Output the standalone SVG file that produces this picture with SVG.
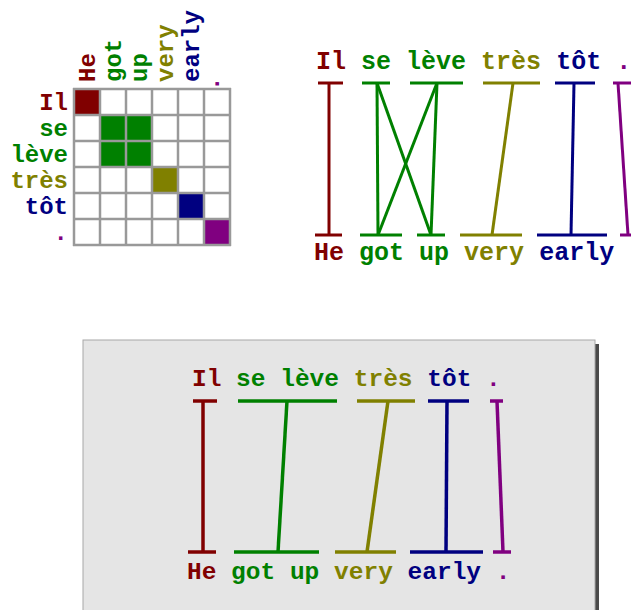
<svg xmlns="http://www.w3.org/2000/svg" width="631" height="610" viewBox="0 0 631 610">
<style>
text{font-family:"Liberation Mono","Courier New",monospace;font-weight:bold}
.lbl{font-size:24px}
.r{fill:#800000}.g{fill:#008000}.o{fill:#808000}.b{fill:#000080}.p{fill:#800080}
.sr{stroke:#800000}.sg{stroke:#008000}.so{stroke:#808000}.sb{stroke:#000080}.sp{stroke:#800080}
.c2 line{stroke-width:3;fill:none}
.c3 line{stroke-width:3.5;fill:none}
.grid line{stroke:#999;stroke-width:2.5}
</style>
<rect width="631" height="610" fill="#ffffff"/>

<!-- Alignment matrix -->
<g id="matrix">
  <rect x="74" y="89" width="156" height="156" fill="#ffffff"/>
  <rect x="74" y="89" width="26" height="26" class="r"/>
  <rect x="100" y="115" width="52" height="52" class="g"/>
  <rect x="152" y="167" width="26" height="26" class="o"/>
  <rect x="178" y="193" width="26" height="26" class="b"/>
  <rect x="204" y="219" width="26" height="26" class="p"/>
  <g class="grid">
    <line x1="74" y1="88" x2="74" y2="246"/><line x1="100" y1="88" x2="100" y2="246"/>
    <line x1="126" y1="88" x2="126" y2="246"/><line x1="152" y1="88" x2="152" y2="246"/>
    <line x1="178" y1="88" x2="178" y2="246"/><line x1="204" y1="88" x2="204" y2="246"/>
    <line x1="230" y1="88" x2="230" y2="246"/>
    <line x1="73" y1="89" x2="231" y2="89"/><line x1="73" y1="115" x2="231" y2="115"/>
    <line x1="73" y1="141" x2="231" y2="141"/><line x1="73" y1="167" x2="231" y2="167"/>
    <line x1="73" y1="193" x2="231" y2="193"/><line x1="73" y1="219" x2="231" y2="219"/>
    <line x1="73" y1="245" x2="231" y2="245"/>
  </g>
  <g class="lbl" text-anchor="end">
    <text x="68" y="110" class="r">Il</text>
    <text x="68" y="136" class="g">se</text>
    <text x="68" y="162" class="g">lève</text>
    <text x="68" y="188" class="o">très</text>
    <text x="68" y="214" class="b">tôt</text>
    <text x="68" y="240" class="p">.</text>
  </g>
  <g class="lbl">
    <text transform="translate(95,82) rotate(-90)" class="r">He</text>
    <text transform="translate(121,82) rotate(-90)" class="g">got</text>
    <text transform="translate(147,82) rotate(-90)" class="g">up</text>
    <text transform="translate(173,82) rotate(-90)" class="o">very</text>
    <text transform="translate(199,82) rotate(-90)" class="b">early</text>
    <text transform="translate(219,91) rotate(-90)" class="p">.</text>
  </g>
</g>

<!-- Panel 2: word alignment with crossing links -->
<g id="sent-fr-1">
  <text x="316" y="69" style="font-size:25px"><tspan class="r">Il</tspan> <tspan class="g">se</tspan> <tspan class="g">lève</tspan> <tspan class="o">très</tspan> <tspan class="b">tôt</tspan> <tspan class="p">.</tspan></text>
</g>
<g id="sent-en-1">
  <text x="314" y="260" style="font-size:25px"><tspan class="r">He</tspan> <tspan class="g">got</tspan> <tspan class="g">up</tspan> <tspan class="o">very</tspan> <tspan class="b">early</tspan> <tspan class="p">.</tspan></text>
</g>
<g id="connectors-1" class="c2">
  <line x1="318" y1="83" x2="343" y2="83" class="sr"/>
  <line x1="362" y1="83" x2="390" y2="83" class="sg"/>
  <line x1="410" y1="83" x2="463" y2="83" class="sg"/>
  <line x1="483" y1="83" x2="540" y2="83" class="so"/>
  <line x1="555" y1="83" x2="595" y2="83" class="sb"/>
  <line x1="613" y1="83" x2="640" y2="83" class="sp"/>
  <line x1="315" y1="235" x2="342" y2="235" class="sr"/>
  <line x1="360" y1="235" x2="402" y2="235" class="sg"/>
  <line x1="417" y1="235" x2="445" y2="235" class="sg"/>
  <line x1="460" y1="235" x2="522" y2="235" class="so"/>
  <line x1="537" y1="235" x2="607" y2="235" class="sb"/>
  <line x1="620" y1="235" x2="640" y2="235" class="sp"/>
  <line x1="329" y1="83" x2="329" y2="235" class="sr"/>
  <line x1="377" y1="83" x2="378" y2="235" class="sg"/>
  <line x1="377" y1="83" x2="431" y2="235" class="sg"/>
  <line x1="437" y1="83" x2="378" y2="235" class="sg"/>
  <line x1="437" y1="83" x2="431" y2="235" class="sg"/>
  <line x1="513" y1="83" x2="492" y2="235" class="so"/>
  <line x1="574" y1="83" x2="571" y2="235" class="sb"/>
  <line x1="618" y1="83" x2="628" y2="235" class="sp"/>
</g>

<!-- Panel 3: boxed phrase alignment -->
<g id="panel">
  <rect x="595" y="344" width="4" height="280" fill="#4a4a4a"/>
  <rect x="83" y="340" width="512" height="290" fill="#e5e5e5" stroke="#a8a8a8" stroke-width="1"/>
</g>
<g id="sent-fr-2">
  <text x="192" y="386" style="font-size:24.5px"><tspan class="r">Il</tspan> <tspan class="g">se</tspan> <tspan class="g">lève</tspan> <tspan class="o">très</tspan> <tspan class="b">tôt</tspan> <tspan class="p">.</tspan></text>
</g>
<g id="sent-en-2">
  <text x="187" y="579" style="font-size:24.5px"><tspan class="r">He</tspan> <tspan class="g">got</tspan> <tspan class="g">up</tspan> <tspan class="o">very</tspan> <tspan class="b">early</tspan> <tspan class="p">.</tspan></text>
</g>
<g id="connectors-2" class="c3">
  <line x1="193" y1="401" x2="217" y2="401" class="sr"/>
  <line x1="238" y1="401" x2="337" y2="401" class="sg"/>
  <line x1="357" y1="401" x2="415" y2="401" class="so"/>
  <line x1="428" y1="401" x2="469" y2="401" class="sb"/>
  <line x1="490" y1="401" x2="503" y2="401" class="sp"/>
  <line x1="188" y1="552" x2="216" y2="552" class="sr"/>
  <line x1="234" y1="552" x2="319" y2="552" class="sg"/>
  <line x1="335" y1="552" x2="396" y2="552" class="so"/>
  <line x1="410" y1="552" x2="483" y2="552" class="sb"/>
  <line x1="493" y1="552" x2="511" y2="552" class="sp"/>
  <line x1="203" y1="401" x2="203" y2="552" class="sr"/>
  <line x1="287" y1="401" x2="278" y2="552" class="sg"/>
  <line x1="388" y1="401" x2="367" y2="552" class="so"/>
  <line x1="447" y1="401" x2="446" y2="552" class="sb"/>
  <line x1="497" y1="401" x2="503" y2="552" class="sp"/>
</g>
</svg>
